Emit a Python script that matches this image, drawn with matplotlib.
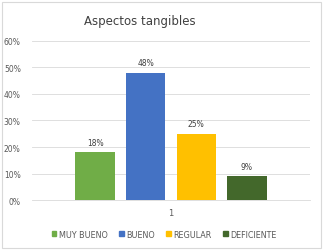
import matplotlib.pyplot as plt
import numpy as np
from matplotlib.patches import Rectangle

title = "Aspectos tangibles"
series = ["MUY BUENO", "BUENO", "REGULAR", "DEFICIENTE"]
values = [18, 48, 25, 9]
category = "1"
colors = ["#70AD47", "#4472C4", "#FFC000", "#43682B"]
yticks = [0, 10, 20, 30, 40, 50, 60]

fig = plt.figure(figsize=(3.25, 2.51), dpi=100)
ax = fig.add_axes([0.098, 0.199, 0.856, 0.634])

# Bars grouped around the single category
offsets = np.arange(len(series)) - (len(series) - 1) / 2
bars = ax.bar(offsets, values, width=0.78, color=colors, zorder=3)
for b, v in zip(bars, values):
    ax.text(b.get_x() + b.get_width() / 2, v + 2, f"{v}%", ha="center",
            va="bottom", fontsize=5.5, color="#404040")

ax.set_xlim(-2.75, 2.75)
ax.set_ylim(0, 60)
ax.set_yticks(yticks)
ax.set_yticklabels([f"{t}%" for t in yticks], fontsize=5.5, color="#595959")
ax.set_xticks([0])
ax.set_xticklabels([category], fontsize=6, color="#595959")
ax.tick_params(axis="y", length=0, pad=8)
ax.tick_params(axis="x", length=0, pad=6)
ax.grid(axis="y", color="#D9D9D9", linewidth=0.6, zorder=0)
for s in ["top", "right", "left"]:
    ax.spines[s].set_visible(False)
ax.spines["bottom"].set_color("#D9D9D9")
ax.spines["bottom"].set_linewidth(0.6)

fig.text(0.43, 0.915, title, ha="center", va="center", fontsize=8.5, color="#404040")

handles = [Rectangle((0, 0), 1, 1, color=c) for c in colors]
fig.legend(handles, series, loc="center", bbox_to_anchor=(0.505, 0.063), ncol=4,
           frameon=False, fontsize=5.8, handlelength=0.6, handleheight=0.6,
           handletextpad=0.3, columnspacing=1.4, labelcolor="#595959")

fig.patches.append(Rectangle((0.006, 0.008), 0.982, 0.98, transform=fig.transFigure,
                             fill=False, edgecolor="#D9D9D9", linewidth=0.8))

fig.savefig("out.png", dpi=100)
